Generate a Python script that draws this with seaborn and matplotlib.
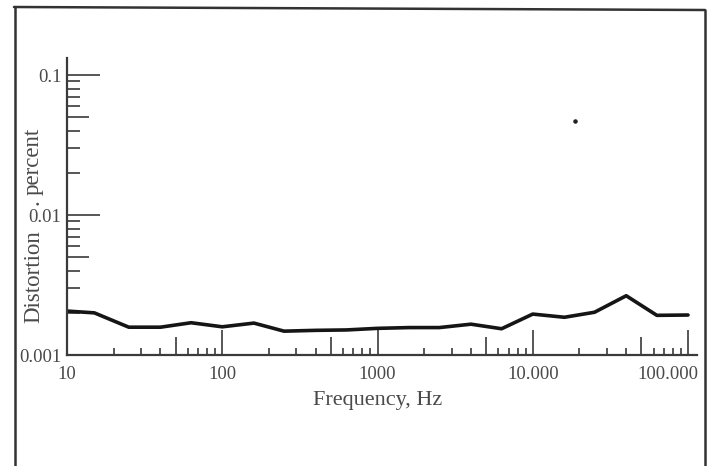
import numpy as np
import pandas as pd
import matplotlib
matplotlib.use("Agg")
import matplotlib.pyplot as plt
import seaborn as sns
from matplotlib.ticker import FixedLocator, FixedFormatter
from matplotlib.lines import Line2D
from matplotlib.transforms import ScaledTranslation

# ---- data ----
freq_hz = [10, 15, 25, 40, 63, 100, 160, 250, 400, 630, 1000, 1600, 2500,
           4000, 6300, 10000, 16000, 25000, 40000, 63000, 100000]
distortion_pct = [0.00206, 0.00200, 0.00158, 0.00158, 0.00170, 0.00159, 0.00169,
                  0.00148, 0.00150, 0.00151, 0.00155, 0.00157, 0.00157,
                  0.00166, 0.00154, 0.00196, 0.00186, 0.00202, 0.00265,
                  0.00192, 0.00193]
speck_x = [18700]
speck_y = [0.047]
x_tick_values = [10, 100, 1000, 10000, 100000]
x_tick_labels = ["10", "100", "1000", "10.000", "100.000"]
y_tick_values = [0.001, 0.01, 0.1]
y_tick_labels = ["0.001", "0.01", "0.1"]
y_label_parts = ["Distortion", ".", "percent"]
x_label = "Frequency, Hz"

df = pd.DataFrame({"freq": freq_hz, "dist": distortion_pct})

sns.set_style("ticks")
plt.rcParams["font.family"] = ["Liberation Serif", "DejaVu Serif"]
ink = "#3a3a3a"
txt = "#4a4a4a"

fig = plt.figure(figsize=(7.14, 4.66), dpi=100)
W, H = 714, 466
ax = fig.add_axes([67 / W, 1 - 355 / H, (697 - 67) / W, (355 - 58) / H])

sns.lineplot(data=df, x="freq", y="dist", ax=ax, color="#151515", linewidth=2.6)
ax.scatter(speck_x, speck_y, s=5, color="#222222", zorder=3)

ax.set_xscale("log")
ax.set_yscale("log")
ax.set_xlim(10, 10 ** (5 + 9 / 155.25))
ax.set_ylim(0.001, 0.1 * 10 ** (17 / 140))

# x ticks: decades (labelled), 5x (longer), others minor
x_major = []
x_major_lbl = []
x_minor = []
for d in range(1, 6):
    base = 10 ** d
    x_major.append(base)
    x_major_lbl.append(x_tick_labels[x_tick_values.index(base)])
    if d < 5:
        x_major.append(5 * base)
        x_major_lbl.append("")
        for k in (2, 3, 4, 6, 7, 8, 9):
            x_minor.append(k * base)
ax.xaxis.set_major_locator(FixedLocator(x_major))
ax.xaxis.set_major_formatter(FixedFormatter(x_major_lbl))
ax.xaxis.set_minor_locator(FixedLocator(x_minor))

y_major = []
y_major_lbl = []
y_minor = []
for e in (-3, -2, -1):
    base = 10.0 ** e
    y_major.append(base)
    y_major_lbl.append(y_tick_labels[y_tick_values.index(base)])
    if e < -1:
        y_major.append(5 * base)
        y_major_lbl.append("")
        for k in (2, 3, 4, 6, 7, 8, 9):
            y_minor.append(k * base)
ax.yaxis.set_major_locator(FixedLocator(y_major))
ax.yaxis.set_major_formatter(FixedFormatter(y_major_lbl))
ax.yaxis.set_minor_locator(FixedLocator(y_minor))

ax.tick_params(which="both", direction="in", color=ink, width=1.2)
ax.tick_params(axis="x", which="major", length=18, pad=8, labelsize=13.5, labelcolor=txt)
ax.tick_params(axis="x", which="minor", length=5)
ax.tick_params(axis="y", which="major", length=24, pad=4, labelsize=13.5, labelcolor=txt)
ax.tick_params(axis="y", which="minor", length=9)

fig.canvas.draw()
for t, v in zip(ax.xaxis.get_major_ticks(), x_major):
    if v in x_tick_values and v != 10:
        t.tick1line.set_markersize(18)
    elif v == 10:
        t.tick1line.set_markersize(0)
    else:
        t.tick1line.set_markersize(13)
for t, v in zip(ax.yaxis.get_major_ticks(), y_major):
    if v in y_tick_values and v != 0.001:
        t.tick1line.set_markersize(24)
    elif v == 0.001:
        t.tick1line.set_markersize(0)
    else:
        t.tick1line.set_markersize(16)

# shift last x tick label to the left as in the reference
for lab in ax.get_xticklabels():
    if lab.get_text() == "100.000":
        lab.set_transform(lab.get_transform() + ScaledTranslation(-0.2, 0, fig.dpi_scale_trans))

for s in ("top", "right"):
    ax.spines[s].set_visible(False)
for s in ("left", "bottom"):
    ax.spines[s].set_color(ink)
    ax.spines[s].set_linewidth(1.6)

ax.set_xlabel("")
ax.set_ylabel("")
fig.text(378 / W, 1 - 401 / H, x_label, ha="center", va="center",
         fontsize=16, color=txt)

# y label in three pieces: the 0.01 tick label sits in its gap, as in the reference
y_part_centres = [276.5, 202, 161.5]
for part, yc in zip(y_label_parts, y_part_centres):
    fig.text(39 / W, 1 - yc / H, part, ha="center", va="baseline",
             rotation=90, rotation_mode="anchor", fontsize=16.5, color=txt)

# outer frame of the scanned page
fig.add_artist(Line2D([14.5 / W, 14.5 / W], [1 - 7 / H, 0], color="#333333", lw=1.8))
fig.add_artist(Line2D([14 / W, 705 / W], [1 - 7 / H, 1 - 10 / H], color="#333333", lw=1.8))
fig.add_artist(Line2D([705 / W, 705 / W], [1 - 10 / H, 0], color="#333333", lw=1.8))

fig.savefig("out.png", dpi=100)
